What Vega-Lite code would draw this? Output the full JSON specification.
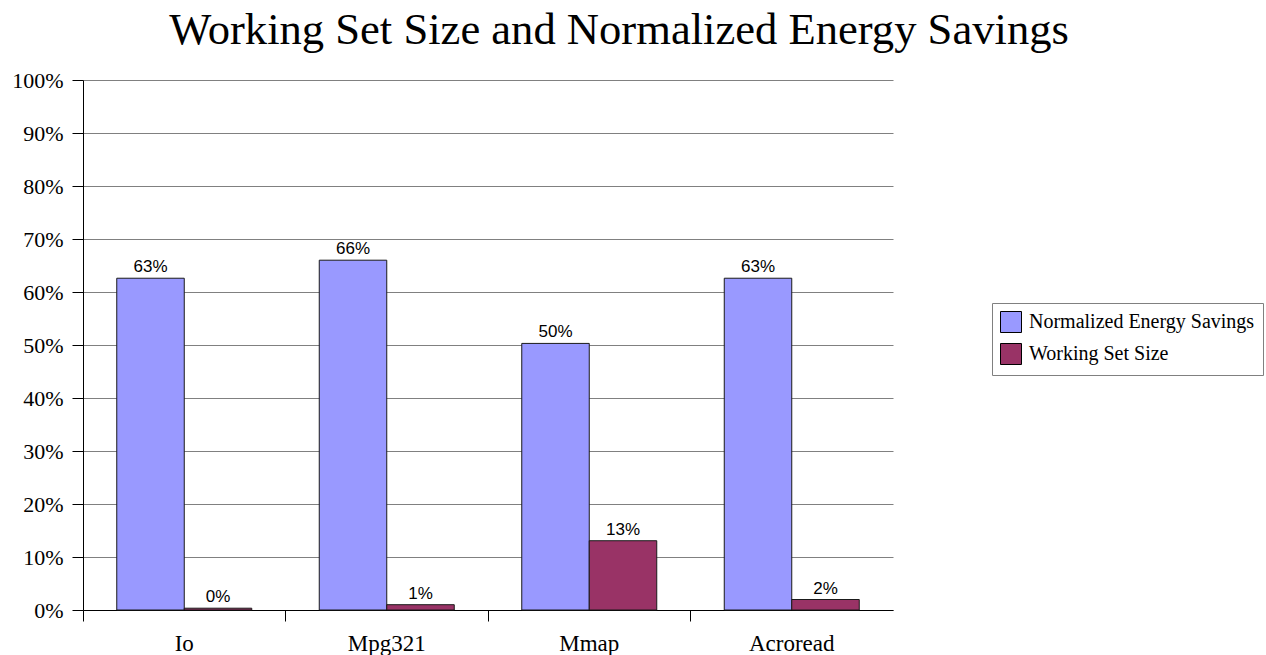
{
  "$schema": "https://vega.github.io/schema/vega-lite/v6.json",
  "width": 810,
  "height": 530,
  "autosize": {"type": "none"},
  "padding": {"left": 83, "top": 80, "right": 373, "bottom": 45},
  "background": "white",
  "title": {
    "text": "Working Set Size and Normalized Energy Savings",
    "font": "Liberation Serif",
    "fontSize": 44.6,
    "fontWeight": "normal",
    "color": "black",
    "anchor": "middle",
    "baseline": "alphabetic",
    "dx": 131,
    "offset": -20
  },
  "data": {
    "values": [
      {"app": "Io", "series": "Normalized Energy Savings", "value": 0.626},
      {"app": "Io", "series": "Working Set Size", "value": 0.0034},
      {"app": "Mpg321", "series": "Normalized Energy Savings", "value": 0.66},
      {"app": "Mpg321", "series": "Working Set Size", "value": 0.01},
      {"app": "Mmap", "series": "Normalized Energy Savings", "value": 0.503},
      {"app": "Mmap", "series": "Working Set Size", "value": 0.1307},
      {"app": "Acroread", "series": "Normalized Energy Savings", "value": 0.626},
      {"app": "Acroread", "series": "Working Set Size", "value": 0.0198}
    ]
  },
  "encoding": {
    "x": {
      "field": "app",
      "type": "nominal",
      "sort": ["Io", "Mpg321", "Mmap", "Acroread"],
      "scale": {"paddingInner": 0, "paddingOuter": 0},
      "axis": {
        "title": null,
        "labelAngle": 0,
        "bandPosition": 0,
        "labelFont": "Liberation Serif",
        "labelFontSize": 23,
        "labelColor": "black",
        "labelBaseline": "alphabetic",
        "labelPadding": 29,
        "tickSize": 11,
        "tickColor": "black",
        "domainColor": "black",
        "grid": false
      }
    },
    "xOffset": {
      "field": "series",
      "type": "nominal",
      "sort": ["Normalized Energy Savings", "Working Set Size"],
      "scale": {"paddingInner": 0, "paddingOuter": 0.5}
    },
    "y": {
      "field": "value",
      "type": "quantitative",
      "scale": {"domain": [0, 1], "nice": false},
      "axis": {
        "title": null,
        "values": [0, 0.1, 0.2, 0.3, 0.4, 0.5, 0.6, 0.7, 0.8, 0.9, 1],
        "format": ".0%",
        "labelFont": "Liberation Serif",
        "labelFontSize": 22,
        "labelColor": "black",
        "labelPadding": 9,
        "tickSize": 11,
        "tickColor": "black",
        "domainColor": "black",
        "grid": true,
        "gridColor": "#808080",
        "gridWidth": 1,
        "gridOpacity": 1
      }
    }
  },
  "layer": [
    {
      "mark": {"type": "bar", "stroke": "#1a1a1a", "strokeWidth": 1},
      "encoding": {
        "color": {
          "field": "series",
          "type": "nominal",
          "scale": {
            "domain": ["Normalized Energy Savings", "Working Set Size"],
            "range": ["#9999FF", "#993366"]
          },
          "legend": {
            "title": null,
            "orient": "none",
            "legendX": 909,
            "legendY": 223,
            "symbolType": "square",
            "symbolSize": 441,
            "symbolStrokeColor": "black",
            "symbolStrokeWidth": 1,
            "symbolOpacity": 1,
            "labelFont": "Liberation Serif",
            "labelFontSize": 20,
            "labelColor": "black",
            "labelOffset": 7,
            "labelLimit": 400,
            "rowPadding": 6,
            "padding": 8,
            "strokeColor": "#808080",
            "fillColor": "white"
          }
        }
      }
    },
    {
      "mark": {
        "type": "text",
        "font": "Liberation Sans",
        "fontSize": 17,
        "color": "black",
        "baseline": "alphabetic",
        "dy": -6
      },
      "encoding": {
        "text": {"field": "value", "type": "quantitative", "format": ".0%"}
      }
    }
  ],
  "config": {
    "view": {"stroke": null}
  }
}
